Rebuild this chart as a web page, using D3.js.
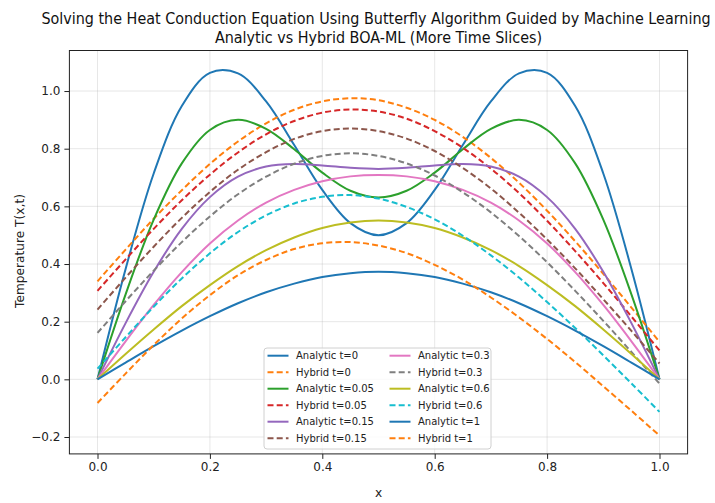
<!DOCTYPE html>
<html>
<head>
<meta charset="utf-8">
<script src="https://cdn.jsdelivr.net/npm/d3@7"></script>
<style>
  body { margin: 0; background: #fff; }
  text { font-family: "DejaVu Sans", sans-serif; }
</style>
</head>
<body>
<svg id="chart" width="715" height="503"></svg>
<script>
// ------- Data ------
const xs = [0, 0.05, 0.1, 0.15, 0.2, 0.25, 0.3, 0.35, 0.4, 0.45, 0.5,
            0.55, 0.6, 0.65, 0.7, 0.75, 0.8, 0.85, 0.9, 0.95, 1];

const analytic_t0    = [0, .383, .714, .948, 1.063, 1.061, .964, .813, .657, .542, .500, .542, .657, .813, .964, 1.061, 1.063, .948, .714, .383, 0];
const hybrid_t0      = [.340, .450, .557, .656, .747, .825, .888, .935, .964, .975, .968, .942, .900, .841, .768, .682, .585, .479, .366, .249, .130];
const analytic_t005  = [0, .295, .554, .749, .865, .900, .869, .798, .717, .654, .631, .654, .717, .798, .869, .900, .865, .749, .554, .295, 0];
const hybrid_t005    = [.307, .416, .522, .621, .710, .787, .850, .896, .925, .936, .929, .904, .861, .803, .731, .646, .550, .445, .334, .218, .100];
const analytic_t015  = [0, .195, .373, .522, .632, .703, .738, .747, .742, .734, .730, .734, .742, .747, .738, .703, .632, .522, .373, .195, 0];
const hybrid_t015    = [.242, .353, .460, .560, .650, .727, .788, .834, .861, .870, .861, .835, .792, .733, .662, .578, .485, .385, .278, .168, .055];
const analytic_t03   = [0, .132, .258, .372, .471, .551, .613, .657, .687, .704, .709, .704, .687, .657, .613, .551, .471, .372, .258, .132, 0];
const hybrid_t03     = [.161, .271, .377, .476, .565, .642, .703, .748, .775, .784, .775, .749, .707, .649, .579, .497, .406, .307, .203, .095, -.015];
const analytic_t06   = [0, .088, .173, .254, .327, .393, .448, .492, .525, .544, .551, .544, .525, .492, .448, .393, .327, .254, .173, .088, 0];
const hybrid_t06     = [.037, .146, .252, .350, .437, .511, .569, .610, .633, .639, .627, .598, .555, .498, .430, .353, .268, .178, .083, -.014, -.113];
const analytic_t1    = [0, .058, .115, .169, .219, .264, .302, .332, .355, .368, .373, .368, .355, .332, .302, .264, .219, .169, .115, .058, 0];
const hybrid_t1      = [-.082, .020, .119, .211, .292, .361, .414, .452, .472, .476, .464, .438, .397, .346, .284, .215, .140, .060, -.024, -.109, -.195];

const xTicks = [0, 0.2, 0.4, 0.6, 0.8, 1.0];
const yTicks = [-0.2, 0, 0.2, 0.4, 0.6, 0.8, 1.0];

const series = [
  { label: "Analytic t=0",    values: analytic_t0,   color: "#1f77b4", dashed: false },
  { label: "Hybrid t=0",      values: hybrid_t0,     color: "#ff7f0e", dashed: true },
  { label: "Analytic t=0.05", values: analytic_t005, color: "#2ca02c", dashed: false },
  { label: "Hybrid t=0.05",   values: hybrid_t005,   color: "#d62728", dashed: true },
  { label: "Analytic t=0.15", values: analytic_t015, color: "#9467bd", dashed: false },
  { label: "Hybrid t=0.15",   values: hybrid_t015,   color: "#8c564b", dashed: true },
  { label: "Analytic t=0.3",  values: analytic_t03,  color: "#e377c2", dashed: false },
  { label: "Hybrid t=0.3",    values: hybrid_t03,    color: "#7f7f7f", dashed: true },
  { label: "Analytic t=0.6",  values: analytic_t06,  color: "#bcbd22", dashed: false },
  { label: "Hybrid t=0.6",    values: hybrid_t06,    color: "#17becf", dashed: true },
  { label: "Analytic t=1",    values: analytic_t1,   color: "#1f77b4", dashed: false },
  { label: "Hybrid t=1",      values: hybrid_t1,     color: "#ff7f0e", dashed: true },
];

const svg = d3.select("#chart");
const plot = { left: 69.4, right: 687.6, top: 50.5, bottom: 453.9 };

const x = d3.scaleLinear().domain([-0.05, 1.05]).range([plot.left, plot.right]);
const y = d3.scaleLinear().domain([-0.2586, 1.1406]).range([plot.bottom, plot.top]);

// title (the reference font is a bit narrower / taller than DejaVu)
svg.append("text")
  .attr("text-anchor", "middle")
  .attr("font-size", "16.5px")
  .attr("fill", "#111")
  .attr("transform", "translate(376,24) scale(0.87,1)")
  .text("Solving the Heat Conduction Equation Using Butterfly Algorithm Guided by Machine Learning");
svg.append("text")
  .attr("text-anchor", "middle")
  .attr("font-size", "16.5px")
  .attr("fill", "#111")
  .attr("transform", "translate(378.5,43) scale(0.87,1)")
  .text("Analytic vs Hybrid BOA-ML (More Time Slices)");

// grid
const grid = svg.append("g").attr("stroke", "#b0b0b0").attr("stroke-opacity", 0.3).attr("stroke-width", 1);
xTicks.forEach(d => {
  grid.append("line").attr("x1", x(d)).attr("x2", x(d)).attr("y1", plot.top).attr("y2", plot.bottom);
});
yTicks.forEach(d => {
  grid.append("line").attr("x1", plot.left).attr("x2", plot.right).attr("y1", y(d)).attr("y2", y(d));
});

// curves
const line = d3.line()
  .x((d, i) => x(xs[i]))
  .y(d => y(d))
  .curve(d3.curveCatmullRom);

const curves = svg.append("g");
series.forEach(s => {
  curves.append("path")
    .attr("d", line(s.values))
    .attr("fill", "none")
    .attr("stroke", s.color)
    .attr("stroke-width", 2)
    .attr("stroke-dasharray", s.dashed ? "6,3.2" : null);
});

// axes
const xAxis = svg.append("g")
  .attr("transform", `translate(0,${plot.bottom})`)
  .call(d3.axisBottom(x).tickValues(xTicks).tickSize(5).tickPadding(4).tickFormat(d3.format(".1f")));
const yAxis = svg.append("g")
  .attr("transform", `translate(${plot.left},0)`)
  .call(d3.axisLeft(y).tickValues(yTicks).tickSize(5).tickPadding(4).tickFormat(d3.format(".1f")));
[xAxis, yAxis].forEach(a => {
  a.select(".domain").remove();
  a.selectAll("text").attr("font-size", "12px").attr("fill", "#222").attr("font-family", "DejaVu Sans");
  a.selectAll("line").attr("stroke", "#222");
});

// frame
svg.append("rect")
  .attr("x", plot.left).attr("y", plot.top)
  .attr("width", plot.right - plot.left).attr("height", plot.bottom - plot.top)
  .attr("fill", "none").attr("stroke", "#222").attr("stroke-width", 1);

// axis labels
svg.append("text")
  .attr("text-anchor", "middle")
  .attr("font-size", "12.2px")
  .attr("fill", "#222")
  .attr("x", x(0.5))
  .attr("y", 497)
  .text("x");
svg.append("text")
  .attr("text-anchor", "middle")
  .attr("font-size", "12.2px")
  .attr("fill", "#222")
  .attr("transform", "translate(24,251) rotate(-90)")
  .text("Temperature T(x,t)");

// ------- Legend ------
const legend = svg.append("g");
legend.append("rect")
  .attr("x", 264).attr("y", 348)
  .attr("width", 227).attr("height", 101)
  .attr("rx", 3)
  .attr("fill", "#fff").attr("fill-opacity", 0.8)
  .attr("stroke", "#d0d0d0").attr("stroke-width", 1);

series.forEach((s, i) => {
  const col = Math.floor(i / 6);
  const row = i % 6;
  const lx = col === 0 ? 267.5 : 389.5;
  const ly = 355.7 + row * 16.5;
  legend.append("line")
    .attr("x1", lx).attr("x2", lx + 21)
    .attr("y1", ly).attr("y2", ly)
    .attr("stroke", s.color).attr("stroke-width", 2)
    .attr("stroke-dasharray", s.dashed ? "6,3.2" : null);
  legend.append("text")
    .attr("x", lx + 28.5)
    .attr("y", ly + 3.6)
    .attr("font-size", "10px")
    .attr("fill", "#222")
    .text(s.label);
});
</script>
</body>
</html>
